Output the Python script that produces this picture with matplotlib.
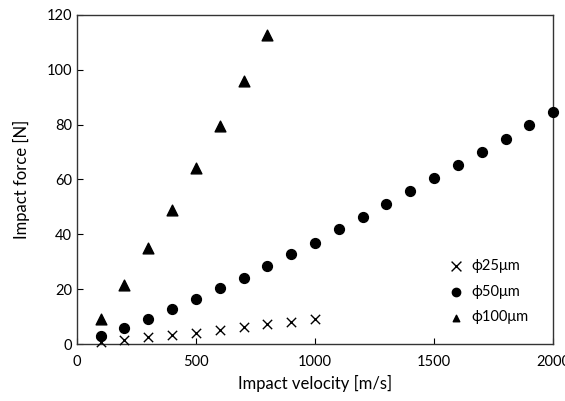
import numpy as np
import matplotlib
matplotlib.use("Agg")
import matplotlib.pyplot as plt

plt.rcParams['font.family'] = ['Lato', 'DejaVu Sans']

v25 = [100, 200, 300, 400, 500, 600, 700, 800, 900, 1000]
f25 = [0.8, 1.6, 2.4, 3.2, 4.2, 5.2, 6.2, 7.2, 8.2, 9.3]

v50 = [100, 200, 300, 400, 500, 600, 700, 800, 900, 1000,
       1100, 1200, 1300, 1400, 1500, 1600, 1700, 1800, 1900, 2000]
f50 = [2.8, 5.7, 9.0, 12.8, 16.6, 20.4, 24.2, 28.5, 32.8, 37.0,
       41.8, 46.2, 51.0, 55.7, 60.5, 65.2, 70.0, 74.8, 80.0, 84.7]

v100 = [100, 200, 300, 400, 500, 600, 700, 800]
f100 = [9.0, 21.5, 35.0, 49.0, 64.0, 79.5, 96.0, 112.5]

fig = plt.figure(figsize=(5.65, 4.01), dpi=100)
ax = fig.add_axes([0.136, 0.142, 0.843, 0.821])

ax.scatter(v25, f25, marker='x', s=45, c='black', linewidths=1.0, label='ϕ25μm', clip_on=False, zorder=3)
ax.scatter(v50, f50, marker='o', s=50, c='black', label='ϕ50μm', clip_on=False, zorder=3)
ax.scatter(v100, f100, marker='^', s=60, c='black', label='ϕ100μm', clip_on=False, zorder=3)

ax.set_xlim(0, 2000)
ax.set_ylim(0, 120)
ax.set_xticks([0, 500, 1000, 1500, 2000])
ax.set_yticks(np.arange(0, 121, 20))
ax.tick_params(direction='in', length=4, labelsize=10.5, width=0.8)
ax.tick_params(axis='x', pad=8)
for s in ax.spines.values():
    s.set_linewidth(1.0)
    s.set_color('#333333')

ax.set_xlabel('Impact velocity [m/s]', fontsize=12)
ax.set_ylabel('Impact force [N]', fontsize=12, labelpad=12)

leg = ax.legend(loc='lower right', bbox_to_anchor=(0.975, 0.02), frameon=False,
                fontsize=10.5, handletextpad=0.0, labelspacing=0.8)
for h, sz in zip(leg.legend_handles, [50, 36, 22]):
    h.set_sizes([sz])

fig.savefig('out.png', dpi=100)
